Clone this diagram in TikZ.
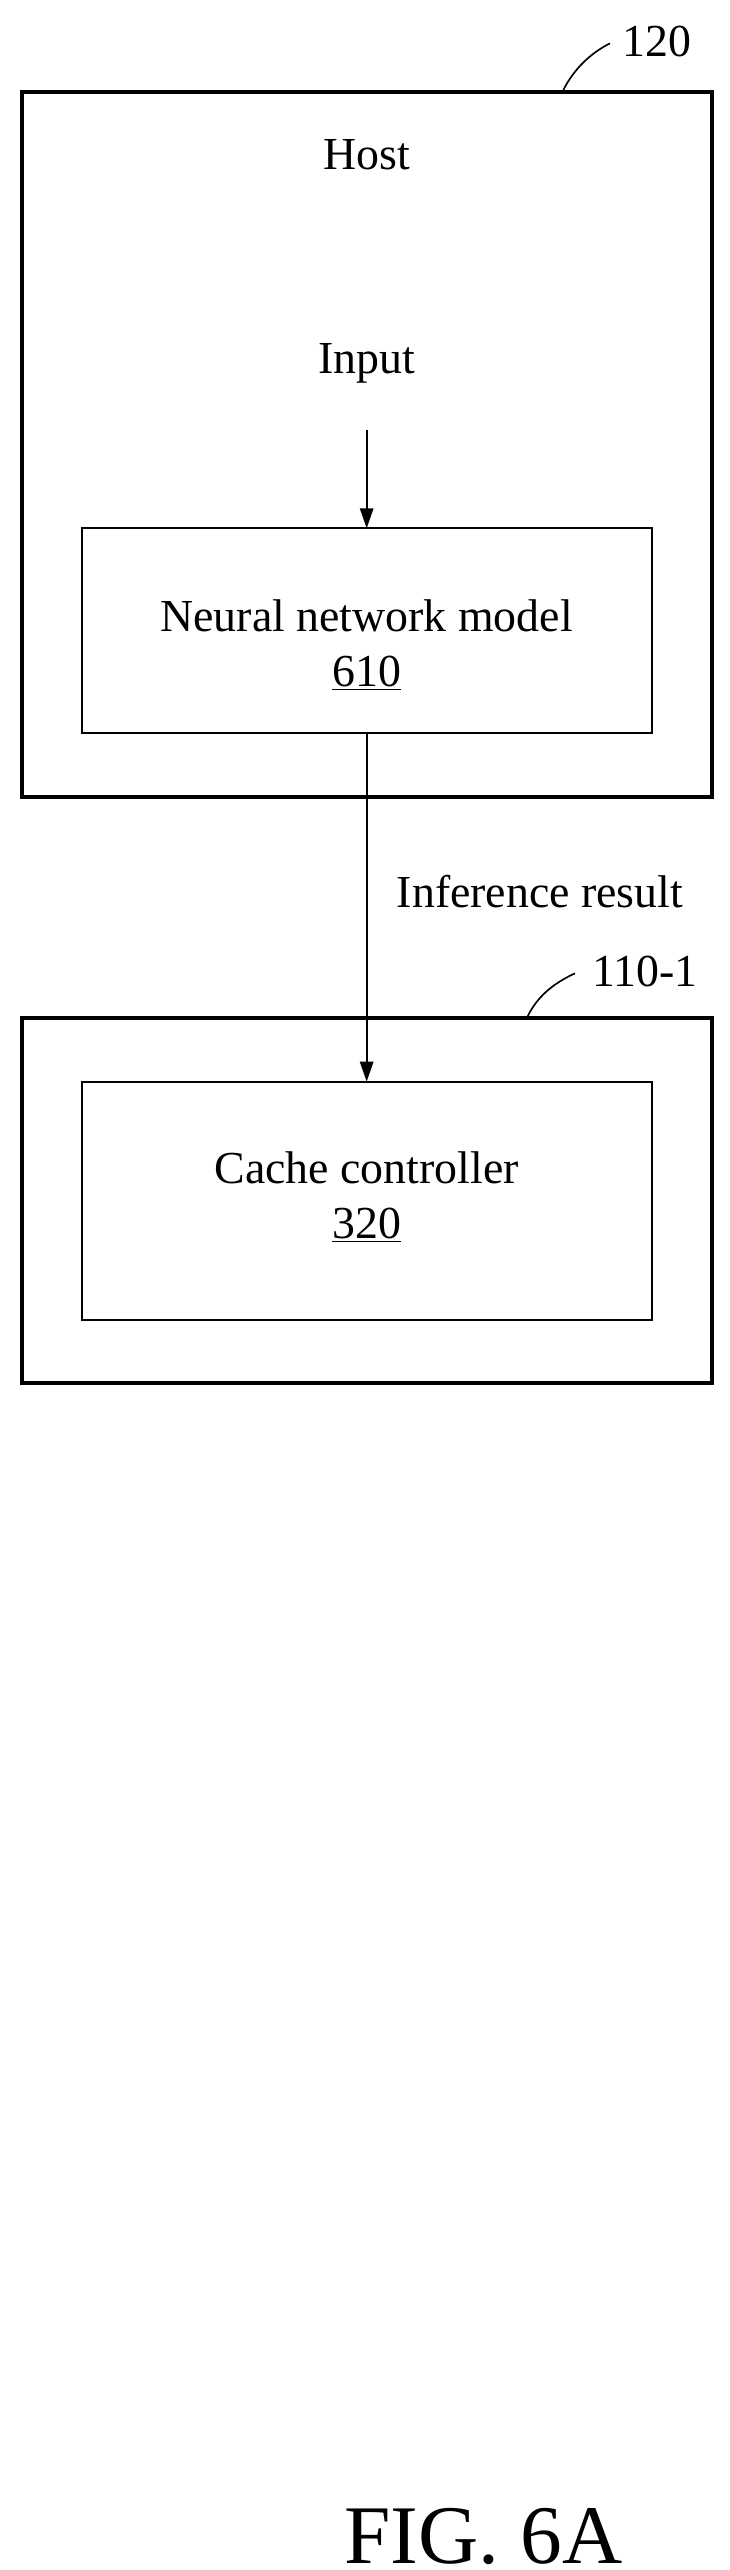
\documentclass[tikz,border=0pt]{standalone}
\usepackage{fontspec}
\setmainfont{Liberation Serif}
\usetikzlibrary{arrows.meta}
\tikzset{
  outerbox/.style={draw, line width=2.4pt},
  innerbox/.style={draw, line width=1.2pt},
  lbl/.style={font=\fontsize{27.5}{31}\selectfont, inner sep=0pt},
  flow/.style={line width=1.2pt, -{Triangle[length=12pt,width=8pt]}}
}
\begin{document}
\begin{tikzpicture}[x=1pt,y=1pt,yscale=-1]
\useasboundingbox (0,0) rectangle (438,1542);

% Host
\draw[outerbox] (13,55) rectangle (427,478);
\node[lbl] (host) at (220,93) {Host};
\node[lbl] (input) at (220,218) {Input};
\draw[innerbox] (49,317) rectangle (391,440);
\node[lbl, align=center] (nntxt) at (220,387) {Neural network model\\[2pt]\underline{610}};
\coordinate (nnbot) at (220,440);
\coordinate (nntop) at (220,317);
\coordinate (intop) at (220,258);

% Cache
\draw[outerbox] (13,611) rectangle (427,830);
\draw[innerbox] (49,649) rectangle (391,792);
\node[lbl, align=center] (cc) at (220,718) {Cache controller\\[2pt]\underline{320}};
\coordinate (cctop) at (220,649);

% connectors
\draw[flow] (intop) -- (nntop);
\draw[flow] (nnbot) -- (cctop);
\node[lbl] (inf) at (324,535) {Inference result};

% reference labels
\node[lbl] (r120) at (394,25) {120};
\draw[line width=1pt] (338,54) .. controls (344,42) and (354,32) .. (366,26);
\node[lbl] (r110) at (387,583) {110-1};
\draw[line width=1pt] (316,611) .. controls (322,598) and (332,590) .. (345,584);

\node[font=\fontsize{50}{56}\selectfont, inner sep=0pt] (fig) at (290,1522) {FIG. 6A};
\end{tikzpicture}
\end{document}
